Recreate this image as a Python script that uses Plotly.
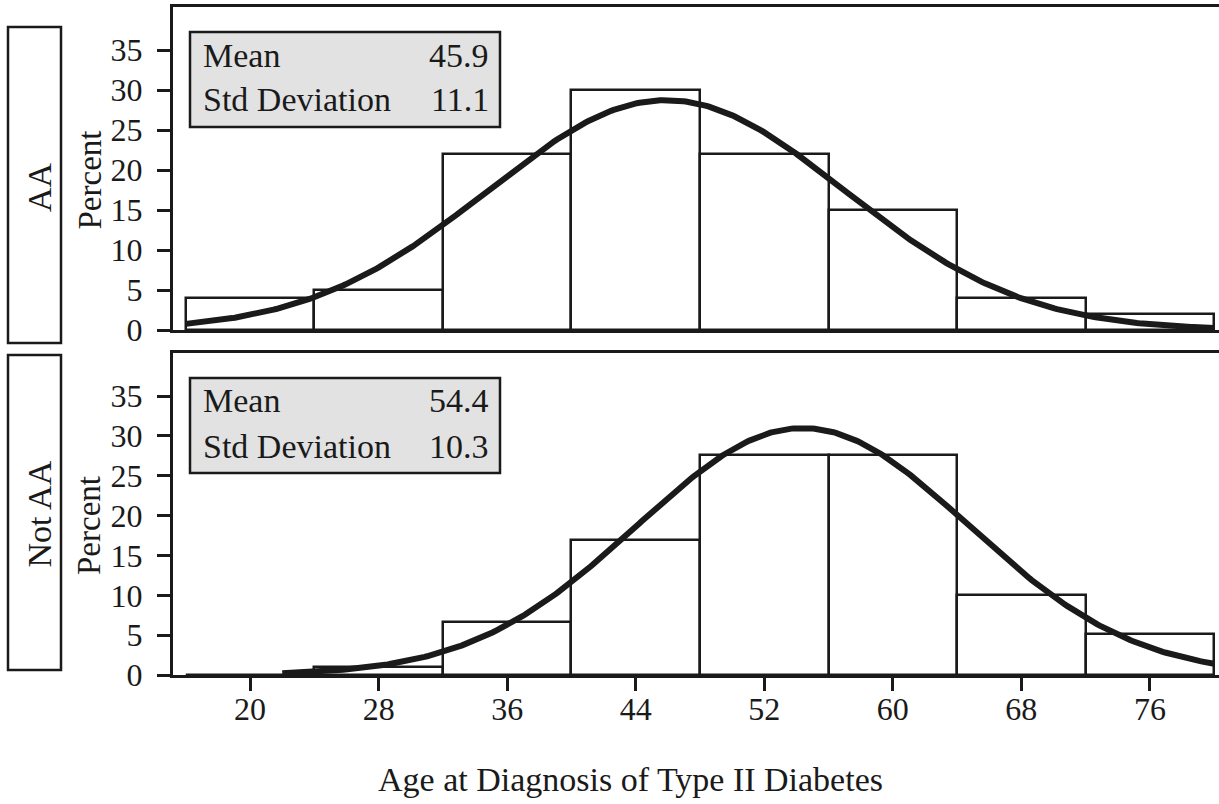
import numpy as np
import plotly.graph_objects as go

# ---- data -------------------------------------------------------------
GROUPS = ["AA", "Not AA"]
BIN_MIDPOINTS = [20, 28, 36, 44, 52, 60, 68, 76]
BIN_WIDTH = 8
PERCENT_AA = [4, 5, 22, 30, 22, 15, 4, 2]
PERCENT_NOT_AA = [0, 1.0, 6.6, 16.9, 27.6, 27.6, 10.1, 5.1]
MEANS = [45.9, 54.4]
STD_DEVS = [11.1, 10.3]
CURVE_FROM = [16, 22]
CURVE_TO = 80
X_TICKS = [20, 28, 36, 44, 52, 60, 68, 76]
Y_TICKS = [0, 5, 10, 15, 20, 25, 30, 35]
X_TITLE = "Age at Diagnosis of Type II Diabetes"
Y_TITLE = "Percent"

# ---- geometry (pixels) -------------------------------------------------
W, H = 1219, 804
PL, PR, PT, PB = 173, 1219, 7, 675
PW, PH = PR - PL, PB - PT
INK = "#1a1a1a"
FONT = "Liberation Serif"

# panel vertical extents in pixels: (top, bottom)
PANELS = [(7, 330), (353, 675)]
# boxes holding the group names: (top, bottom)
GROUP_BOXES = [(27, 343), (355, 670)]


def px(x):
    return (x - PL) / PW


def py(y):
    return (PB - y) / PH


def normal_curve(mean, sd, start, stop):
    xs = np.linspace(start, stop, 400)
    ys = 100 * BIN_WIDTH * np.exp(-0.5 * ((xs - mean) / sd) ** 2) / (sd * np.sqrt(2 * np.pi))
    return xs, ys


fig = go.Figure()
series = [PERCENT_AA, PERCENT_NOT_AA]
axis_ids = [("x2", "y2"), ("x", "y")]

for i, group in enumerate(GROUPS):
    xa, ya = axis_ids[i]
    fig.add_trace(go.Bar(
        x=BIN_MIDPOINTS, y=series[i], width=BIN_WIDTH,
        marker=dict(color="white", line=dict(color=INK, width=2.5)),
        xaxis=xa, yaxis=ya, showlegend=False, hoverinfo="x+y",
    ))
    cx, cy = normal_curve(MEANS[i], STD_DEVS[i], CURVE_FROM[i], CURVE_TO)
    fig.add_trace(go.Scatter(
        x=cx, y=cy, mode="lines", line=dict(color=INK, width=6),
        xaxis=xa, yaxis=ya, showlegend=False, hoverinfo="skip",
    ))

x_range = [15.2, 80.3]
y_range = [0, 40.4]
common_x = dict(range=x_range, showgrid=False, zeroline=False, showline=True,
                linecolor=INK, linewidth=3, mirror=True)
common_y = dict(range=y_range, showgrid=False, zeroline=False, showline=True,
                linecolor=INK, linewidth=3, mirror=False,
                tickvals=Y_TICKS, ticks="outside", ticklen=13, tickwidth=3,
                tickcolor=INK, ticklabelstandoff=8,
                tickfont=dict(family=FONT, size=32, color=INK))

top_dom = [py(PANELS[0][1]), py(PANELS[0][0])]
bot_dom = [py(PANELS[1][1]), py(PANELS[1][0])]

fig.update_layout(
    width=W, height=H,
    margin=dict(l=PL, r=W - PR, t=PT, b=H - PB),
    paper_bgcolor="white", plot_bgcolor="white",
    bargap=0,
    xaxis=dict(**common_x, anchor="y", tickvals=X_TICKS, ticks="outside",
               ticklen=13, tickwidth=3, tickcolor=INK, ticklabelstandoff=-9,
               tickfont=dict(family=FONT, size=32, color=INK)),
    xaxis2=dict(**common_x, anchor="y2", matches="x", showticklabels=False, ticks=""),
    yaxis=dict(**common_y, domain=bot_dom, anchor="x"),
    yaxis2=dict(**common_y, domain=top_dom, anchor="x2"),
)

shapes = []
annotations = []
for i, group in enumerate(GROUPS):
    top, bottom = PANELS[i]
    mid = (top + bottom) / 2
    g_top, g_bot = GROUP_BOXES[i]
    # group label box at the left
    shapes.append(dict(type="rect", xref="paper", yref="paper",
                       x0=px(8), x1=px(61), y0=py(g_bot), y1=py(g_top),
                       line=dict(color=INK, width=2.5), fillcolor="white"))
    annotations.append(dict(text=group, xref="paper", yref="paper",
                            x=px(39), y=py((g_top + g_bot) / 2 + 2), textangle=-90,
                            showarrow=False, xanchor="center", yanchor="middle",
                            font=dict(family=FONT, size=34, color=INK)))
    # y-axis title
    annotations.append(dict(text=Y_TITLE, xref="paper", yref="paper",
                            x=px(89), y=py(mid + 12), textangle=-90,
                            showarrow=False, xanchor="center", yanchor="middle",
                            font=dict(family=FONT, size=33, color=INK)))
    # statistics inset
    s_top, s_bot = top + 25, top + 120
    shapes.append(dict(type="rect", xref="paper", yref="paper",
                       x0=px(190), x1=px(500), y0=py(s_bot), y1=py(s_top),
                       line=dict(color=INK, width=2.5), fillcolor="#e2e2e2"))
    rows = [("Mean", MEANS[i]), ("Std Deviation", STD_DEVS[i])]
    for r, (label, val) in enumerate(rows):
        yy = top + 48 + r * 45
        annotations.append(dict(text=label, xref="paper", yref="paper",
                                x=px(201), y=py(yy), showarrow=False,
                                xanchor="left", yanchor="middle",
                                font=dict(family=FONT, size=34, color=INK)))
        annotations.append(dict(text=f"{val:.1f}", xref="paper", yref="paper",
                                x=px(491), y=py(yy), showarrow=False,
                                xanchor="right", yanchor="middle",
                                font=dict(family=FONT, size=34, color=INK)))

annotations.append(dict(text=X_TITLE, xref="paper", yref="paper",
                        x=px(630), y=py(779), showarrow=False,
                        xanchor="center", yanchor="middle",
                        font=dict(family=FONT, size=34, color=INK)))

fig.update_layout(shapes=shapes, annotations=annotations)
fig.write_html("out.html")
